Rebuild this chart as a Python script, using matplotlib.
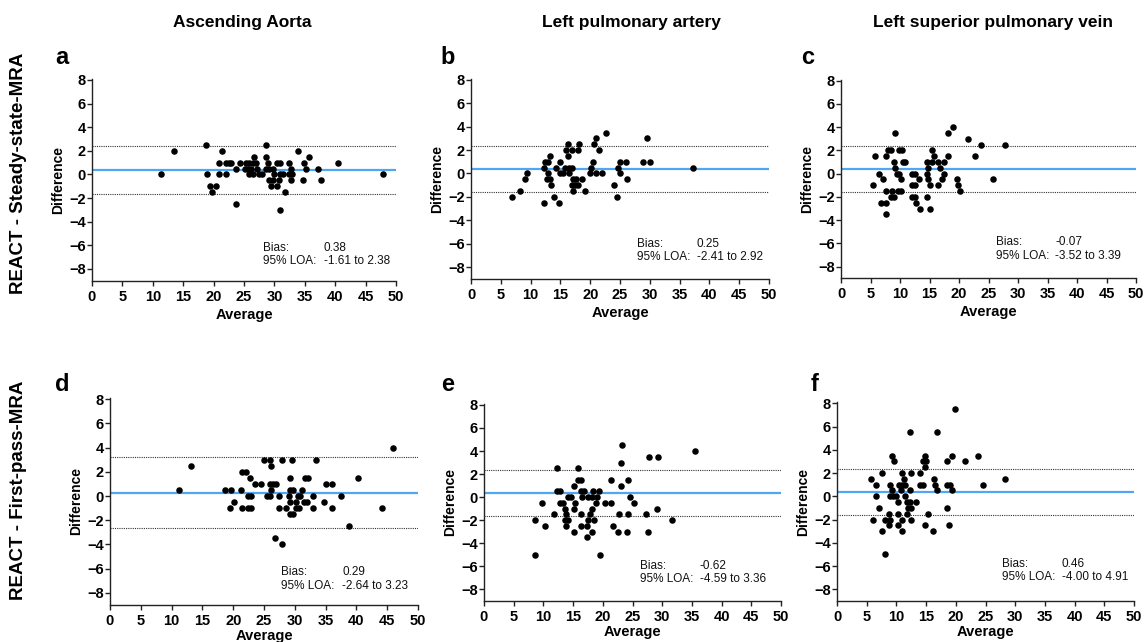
import matplotlib
matplotlib.use("Agg")
import matplotlib.pyplot as plt

# ---- data ----
col_titles = ["Ascending Aorta", "Left pulmonary artery", "Left superior pulmonary vein"]
row_titles = ["REACT - Steady-state-MRA", "REACT - First-pass-MRA"]
panel_letters = ["a", "b", "c", "d", "e", "f"]

a_x = [11.4, 13.5, 18.7, 18.9, 19.4, 19.7, 20.4, 20.9, 20.9, 21.4, 22.0, 22.5, 22.9, 22.0,
       23.7, 23.7, 24.4, 25.2, 25.4, 25.9, 26.4, 26.9, 25.7, 26.2, 25.9, 26.4, 26.7, 27.2,
       27.4, 27.9, 28.7, 28.7, 28.9, 28.7, 29.1, 29.7, 29.1, 29.7, 29.4, 29.9, 30.4, 30.4,
       30.9, 30.7, 30.9, 30.9, 31.4, 31.7, 32.4, 32.7, 32.4, 32.9, 32.7, 33.9, 34.7, 34.9,
       35.2, 35.7, 37.1, 37.7, 40.4, 47.9]
a_y = [0, 2, 2.5, 0, -1, -1.5, -1, 1, 0, 2, 1, 1, 1, 0,
       -2.5, 0.5, 1, 0.5, 1, 1, 1, 1, 0.5, 0.5, 0, 0, 1.5, 0.5,
       0, 0, 2.5, 1.5, 1, 0.5, 0.5, 0.5, -0.5, -0.5, -1, 0, -1, 1,
       1, -0.5, -3, 0, 0, -1.5, 1, 0.5, 0, 0, -0.5, 2, -0.5, 1,
       0.5, 1.5, 0.5, -0.5, 1, 0]

b_x = [6.9, 8.2, 9.1, 9.4, 12.2, 12.2, 12.4, 12.9, 13.2, 12.7, 13.2, 12.9, 13.4, 13.9,
       14.2, 14.7, 14.9, 14.9, 15.4, 15.7, 15.9, 16.2, 16.2, 16.4, 16.9, 16.4, 16.9, 17.4,
       17.9, 16.9, 17.1, 17.1, 17.7, 17.9, 18.2, 18.6, 19.2, 19.9, 20.2, 20.4, 20.7, 20.9,
       20.9, 21.4, 21.9, 22.7, 24.0, 24.5, 24.7, 25.0, 25.0, 26.0, 26.2, 28.9, 29.5, 30.0,
       37.2]
b_y = [-2, -1.5, -0.5, 0, -2.5, 0.5, 1, 1, 1.5, -0.5, -0.5, 0, -1, -2,
       0.5, -2.5, 1, 0, 0, 0.5, 2, 2.5, 1.5, 0.5, 0.5, 0, -1, -1,
       -1, 2, -1.5, -0.5, -0.5, 2, 2.5, -0.5, -1.5, 0, 0.5, 1, 2.5, 3,
       0, 2, 0, 3.5, -1, -2, 0.5, 1, 0, 1, -0.5, 1, 3, 1,
       0.5]

c_x = [5.4, 5.7, 6.4, 6.7, 7.2, 7.7, 7.7, 7.7, 7.7, 8.0, 8.5, 8.5, 9.0, 8.7,
       9.0, 9.2, 9.2, 9.5, 9.9, 9.7, 10.2, 9.9, 10.4, 10.2, 10.5, 10.9, 12.0, 12.5,
       12.0, 12.5, 12.0, 12.5, 12.7, 13.2, 13.4, 14.5, 14.5, 14.5, 14.7, 14.7, 15.0, 15.0,
       15.5, 15.7, 15.5, 16.4, 16.4, 16.7, 17.2, 17.5, 17.5, 18.2, 18.2, 19.0, 19.7, 19.9,
       20.2, 21.5, 22.7, 23.7, 25.8, 27.8]
c_y = [-1, 1.5, 0, -2.5, -0.5, 1.5, -1.5, -2.5, -3.5, 2, 2, -2, -2, -1.5,
       1, 3.5, 0.5, 0, 0, -1.5, -1.5, 2, 2, -0.5, 1, 1, 0, 0,
       -1, -1, -2, -2, -2.5, -0.5, -3, 1, 0, -2, 0.5, -0.5, -3, -1,
       2, 1.5, 1, 1, -1, 0.5, -0.5, 1, 0, 3.5, 1.5, 4, -0.5, -1,
       -1.5, 3, 1.5, 2.5, -0.5, 2.5]

d_x = [11.2, 13.2, 18.7, 19.5, 19.7, 20.2, 21.2, 21.5, 22.0, 21.5, 22.4, 22.9, 22.4, 22.9,
       22.7, 23.5, 24.5, 25.0, 25.5, 26.0, 26.0, 26.5, 27.0, 26.0, 26.2, 26.2, 26.8, 27.5,
       27.5, 28.0, 28.0, 28.5, 29.0, 29.2, 29.2, 29.7, 29.2, 29.2, 29.7, 29.5, 30.2, 30.2,
       30.7, 30.5, 30.9, 31.2, 31.5, 31.9, 31.7, 32.2, 33.0, 33.0, 33.5, 34.8, 35.0, 36.0,
       36.0, 37.5, 38.8, 40.3, 44.1, 46.0]
d_y = [0.5, 2.5, 0.5, -1, 0.5, -0.5, 0.5, 2, 2, -1, -1, -1, 0, 0,
       1.5, 1, 1, 3, 0, 0, 1, 1, 1, 3, 2.5, 0.5, -3.5, 0,
       -1, 3, -4, -1, 0, 1.5, 0.5, 0.5, -0.5, -1.5, -1.5, 3, -0.5, -1,
       -1, 0, 0, 0.5, -0.5, -0.5, 1.5, 1.5, 0, -1, 3, -0.5, 1, 1,
       -1, 0, -2.5, 1.5, -1, 4]

e_x = [8.6, 8.6, 9.8, 10.3, 11.8, 12.3, 12.3, 12.8, 12.8, 13.3, 13.6, 13.6, 14.1, 13.8,
       13.8, 14.1, 14.6, 15.1, 15.1, 15.1, 15.3, 15.8, 15.8, 16.3, 16.3, 16.3, 16.3, 16.5,
       16.8, 17.3, 17.3, 17.5, 17.5, 18.1, 17.8, 18.1, 18.1, 18.3, 18.6, 18.8, 19.1, 19.3,
       19.6, 20.3, 21.3, 21.3, 21.8, 22.6, 22.8, 23.1, 23.1, 23.3, 24.1, 24.3, 24.3, 24.6,
       25.3, 27.3, 27.6, 27.8, 29.1, 29.3, 31.6, 35.6]
e_y = [-2, -5, -0.5, -2.5, -1.5, 2.5, 0.5, 0.5, -0.5, -0.5, -1, -2, -2, -1.5,
       -2.5, 0, 0, 1, -1, -3, -0.5, 2.5, 1.5, 1.5, 0.5, -1.5, -2.5, 0,
       0.5, -3.5, -2.5, -2, 0, 0, -1.5, -1, -3, 0.5, -2, -0.5, 0, 0.5,
       -5, -0.5, 1.5, -0.5, -2.5, -3, -1.5, 1, 3, 4.5, -3, -1.5, 1.5, 0,
       -0.5, -1.5, -3, 3.5, -1, 3.5, -2, 4]

f_x = [5.8, 6.0, 6.6, 6.6, 7.1, 7.6, 7.6, 8.1, 8.1, 8.8, 8.8, 9.0, 9.0, 9.5,
       9.0, 9.3, 9.3, 9.6, 10.0, 10.3, 10.3, 10.3, 10.5, 11.0, 10.8, 11.0, 11.0, 11.0,
       11.3, 11.5, 11.5, 11.8, 11.8, 12.3, 12.3, 12.3, 12.0, 12.5, 12.5, 12.5, 13.3, 14.0,
       14.0, 14.5, 14.5, 14.8, 14.8, 15.0, 14.8, 15.3, 16.1, 16.3, 16.5, 16.8, 16.8, 18.5,
       18.5, 19.0, 18.5, 18.8, 19.3, 19.3, 19.8, 21.6, 23.8, 24.5, 28.3]
f_y = [1.5, -2, 1, 0, -1, 2, -3, -2, -5, -1.5, -2.5, 1, 0, 0,
       -2, 3.5, 0.5, 3, 0, -0.5, -1.5, -2.5, 1, 1, 0.5, 2, -2, -3,
       1.5, 1, 0, -1.5, -0.5, -0.5, 5.5, 0.5, -1, -1, -2, 2, -0.5, 2,
       1, 1, 3, 3.5, 2.5, 3, -2.5, -1.5, -3, 1.5, 1, 5.5, 0.5, 3,
       1, 1, -1, -2.5, 3.5, 0.5, 7.5, 3, 3.5, 1, 1.5]

xs = [a_x, b_x, c_x, d_x, e_x, f_x]
ys = [a_y, b_y, c_y, d_y, e_y, f_y]

# lines as drawn in the figure
bias_line = [0.38, 0.38, 0.38, 0.29, 0.38, 0.38]
upper_loa = [2.38, 2.38, 2.38, 3.23, 2.38, 2.38]
lower_loa = [-1.61, -1.61, -1.61, -2.64, -1.61, -1.61]

bias_text = ["0.38", "0.25", "-0.07", "0.29", "-0.62", "0.46"]
loa_text = ["-1.61 to 2.38", "-2.41 to 2.92", "-3.52 to 3.39",
            "-2.64 to 3.23", "-4.59 to 3.36", "-4.00 to 4.91"]

x_ticks = list(range(0, 51, 5))
y_ticks = list(range(-8, 9, 2))

# ---- layout (pixel boxes: left, top, right, bottom) ----
W, H = 1147, 642
boxes = [
    (92, 78.8, 396, 280.8),
    (471, 78.8, 769, 278.7),
    (841, 79.5, 1136, 278.3),
    (110, 398.1, 418, 604.8),
    (484, 403.8, 781, 600.8),
    (837, 402.1, 1134, 600.9),
]
# text anchor for Bias/LOA block (data coords of "Bias:" and value column)
note_pos = [(28.1, -6.2, 38.1), (27.9, -6.0, 37.9), (26.3, -5.9, 36.3),
            (27.7, -6.3, 37.7), (26.3, -6.0, 36.3), (27.7, -5.8, 37.8)]
letter_pos = [(62, 64), (448, 64), (808, 64), (62, 391), (448, 391), (815, 391)]

plt.rcParams["font.family"] = ["Liberation Sans", "DejaVu Sans"]

fig = plt.figure(figsize=(W / 100, H / 100), dpi=100)
fig.patch.set_facecolor("white")

blue = "#4fa6f2"

for i in range(6):
    l, t, r, b = boxes[i]
    ax = fig.add_axes([l / W, 1 - b / H, (r - l) / W, (b - t) / H])
    ax.set_xlim(0, 50)
    ax.set_ylim(-9, 8.1)
    ax.axhline(bias_line[i], color=blue, lw=1.6, zorder=2)
    ax.axhline(upper_loa[i], color="#333333", lw=0.8, ls=(0, (1, 1)), zorder=2)
    ax.axhline(lower_loa[i], color="#333333", lw=0.8, ls=(0, (1, 1)), zorder=2)
    ax.scatter(xs[i], ys[i], s=22, color="black", linewidths=0, zorder=3)

    for side in ["top", "right"]:
        ax.spines[side].set_visible(False)
    for side in ["left", "bottom"]:
        ax.spines[side].set_linewidth(1.0)
        ax.spines[side].set_color("#222222")
    ax.set_xticks(x_ticks)
    ax.set_yticks(y_ticks)
    ax.tick_params(axis="both", length=3.5, width=1.0, color="#222222",
                   labelsize=10.5)
    ax.tick_params(axis="y", pad=1)
    ax.tick_params(axis="x", pad=3)
    for lab in ax.get_xticklabels() + ax.get_yticklabels():
        lab.set_fontweight("bold")
    ax.set_xlabel("Average", fontsize=10.5, fontweight="bold",
                  labelpad=3 if i < 3 else 1)
    ax.set_ylabel("Difference", fontsize=10, fontweight="bold", labelpad=3)

    nx, ny, vx = note_pos[i]
    ax.text(nx, ny, "Bias:", fontsize=8.5, va="center", ha="left", color="#111111")
    ax.text(vx, ny, bias_text[i], fontsize=8.5, va="center", ha="left", color="#111111")
    ax.text(nx, ny - 1.15, "95% LOA:", fontsize=8.5, va="center", ha="left", color="#111111")
    ax.text(vx, ny - 1.15, loa_text[i], fontsize=8.5, va="center", ha="left", color="#111111")

    lx, ly = letter_pos[i]
    fig.text(lx / W, 1 - ly / H, panel_letters[i], fontsize=17, fontweight="bold",
             ha="center", va="baseline")

col_x = [242, 631, 993]
for j in range(3):
    fig.text(col_x[j] / W, 1 - 22 / H, col_titles[j], fontsize=12.5,
             fontweight="bold", ha="center", va="center")

row_y = [173, 490]
for k in range(2):
    fig.text(19 / W, 1 - row_y[k] / H, row_titles[k], fontsize=13.5,
             fontweight="bold", rotation=90, ha="center", va="center")

fig.savefig("out.png", dpi=100, facecolor="white")
